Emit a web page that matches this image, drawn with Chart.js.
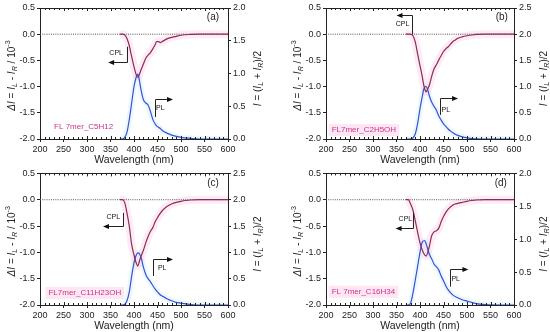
<!DOCTYPE html>
<html>
<head>
<meta charset="utf-8">
<script src="https://cdn.jsdelivr.net/npm/chart.js@4.4.0/dist/chart.umd.min.js"></script>
<style>
body { margin: 0; background: #fff; }
#wrap { position: relative; width: 550px; height: 332px; }
canvas { position: absolute; }
</style>
</head>
<body>
<div id="wrap">
  <canvas id="pa" width="275" height="166" style="left:0;top:0"></canvas>
  <canvas id="pb" width="275" height="166" style="left:275px;top:0"></canvas>
  <canvas id="pc" width="275" height="166" style="left:0;top:166px"></canvas>
  <canvas id="pd" width="275" height="166" style="left:275px;top:166px"></canvas>
</div>
<script>
// --- data (wavelength in nm, CPL in 10^-3, PL normalised) ---
const zeroWave = [200, 600];
const zeroLine = [0, 0];

const waveA = [370,375,380,385,390,395,400,405,408,410,415,420,425,430,435,440,445,448,452,456,460,470,480,490,500,520,540,570,600];
const cplA  = [0,0,-0.01,-0.08,-0.22,-0.43,-0.62,-0.78,-0.82,-0.8,-0.68,-0.57,-0.46,-0.4,-0.35,-0.28,-0.2,-0.14,-0.14,-0.16,-0.14,-0.09,-0.06,-0.04,-0.02,-0.005,0,0,0];
const plA   = [0,0,0.02,0.1,0.3,0.55,0.8,0.95,0.99,0.95,0.75,0.6,0.55,0.52,0.42,0.3,0.23,0.2,0.18,0.16,0.13,0.09,0.06,0.04,0.025,0.01,0,0,0];

const waveB = [370,378,385,390,395,400,405,408,411,413,416,420,425,430,435,440,445,450,455,460,465,470,475,480,490,500,510,520,540,570,600];
const cplB  = [0,0,-0.03,-0.15,-0.38,-0.6,-0.82,-0.97,-1.07,-1.1,-1.05,-0.97,-0.8,-0.66,-0.58,-0.49,-0.41,-0.33,-0.28,-0.24,-0.19,-0.14,-0.11,-0.08,-0.05,-0.03,-0.015,-0.005,0,0,0];
const plB   = [0,0,0.02,0.1,0.3,0.58,0.82,0.95,1.0,1.0,0.95,0.82,0.7,0.62,0.55,0.44,0.36,0.29,0.24,0.19,0.15,0.12,0.09,0.07,0.04,0.02,0.01,0.005,0,0,0];

const waveC = [370,375,380,385,390,395,400,404,408,412,416,420,425,430,435,440,445,450,455,460,470,480,490,500,510,520,540,570,600];
const cplC  = [0,0,-0.05,-0.25,-0.5,-0.85,-1.05,-1.18,-1.26,-1.15,-1.05,-0.96,-0.82,-0.7,-0.6,-0.53,-0.42,-0.34,-0.27,-0.21,-0.13,-0.08,-0.05,-0.03,-0.015,-0.005,0,0,0];
const plC   = [0,0,0.01,0.08,0.25,0.55,0.8,0.93,0.99,0.97,0.87,0.72,0.58,0.5,0.44,0.37,0.3,0.25,0.2,0.17,0.12,0.08,0.05,0.035,0.02,0.01,0,0,0];

const waveD = [370,375,380,385,390,395,400,405,410,413,416,420,425,430,435,440,445,450,455,460,470,480,490,500,510,520,540,570,600];
const cplD  = [0,0,-0.08,-0.2,-0.4,-0.62,-0.82,-0.96,-1.05,-1.07,-1.02,-0.88,-0.68,-0.61,-0.59,-0.54,-0.42,-0.32,-0.24,-0.18,-0.1,-0.07,-0.05,-0.03,-0.015,-0.005,0,0,0];
const plD   = [0,0,0.03,0.18,0.38,0.59,0.8,0.96,0.98,0.93,0.86,0.77,0.7,0.62,0.58,0.53,0.44,0.37,0.29,0.23,0.15,0.11,0.08,0.06,0.04,0.02,0.005,0,0];

const sampleNames = ['FL 7mer_C5H12', 'FL7mer_C2H5OH', 'FL7mer_C11H23OH', 'FL 7mer_C16H34'];
const panelLetters = ['(a)', '(b)', '(c)', '(d)'];

const FONT = '"Liberation Sans", Arial, sans-serif';
Chart.defaults.font.family = FONT;
Chart.defaults.color = '#222';

function pts(xs, ys) {
    return xs.map(function (x, i) { return { x: x, y: ys[i] }; });
}

// text with italic / sub / sup parts, centred at 0,0
function drawRich(ctx, parts, size) {
    let total = 0;
    parts.forEach(function (p) {
        const s = (p.sub || p.sup) ? size * 0.72 : size;
        ctx.font = (p.it ? 'italic ' : '') + s + 'px ' + FONT;
        p.w = ctx.measureText(p.t).width;
        total += p.w;
    });
    let cx = -total / 2;
    ctx.textBaseline = 'middle';
    ctx.textAlign = 'left';
    parts.forEach(function (p) {
        const s = (p.sub || p.sup) ? size * 0.72 : size;
        ctx.font = (p.it ? 'italic ' : '') + s + 'px ' + FONT;
        let dy = 0;
        if (p.sub) dy = size * 0.32;
        if (p.sup) dy = -size * 0.38;
        ctx.fillText(p.t, cx, dy);
        cx += p.w;
    });
}

const leftTitle = [
    { t: '\u0394I', it: true }, { t: ' = ' }, { t: 'I', it: true }, { t: 'L', it: true, sub: true },
    { t: ' - ' }, { t: 'I', it: true }, { t: 'R', it: true, sub: true }, { t: ' / 10' }, { t: '-3', sup: true }
];
const rightTitle = [
    { t: 'I', it: true }, { t: ' = (' }, { t: 'I', it: true }, { t: 'L', it: true, sub: true },
    { t: ' + ' }, { t: 'I', it: true }, { t: 'R', it: true, sub: true }, { t: ')/2' }
];

function arrow(ctx, x1, y1, x2, y2) {
    const dir = Math.sign(x2 - x1);
    ctx.beginPath();
    ctx.moveTo(x1, y1);
    ctx.lineTo(x2 - dir * 5, y2);
    ctx.stroke();
    ctx.beginPath();
    ctx.moveTo(x2, y2);
    ctx.lineTo(x2 - dir * 6, y2 - 2.6);
    ctx.lineTo(x2 - dir * 6, y2 + 2.6);
    ctx.closePath();
    ctx.fill();
}

const decor = {
    id: 'decor',
    afterDraw(chart, args, o) {
        const ctx = chart.ctx, a = chart.chartArea;
        const xs = chart.scales.x, ys = chart.scales.y;
        ctx.save();
        ctx.strokeStyle = '#222';
        ctx.fillStyle = '#111';
        ctx.lineWidth = 1;
        // top border + minor ticks
        ctx.beginPath();
        ctx.moveTo(a.left, Math.round(a.top) + 0.5);
        ctx.lineTo(a.right, Math.round(a.top) + 0.5);
        for (let w = 200; w <= 600; w += 10) {
            const px = Math.round(xs.getPixelForValue(w)) + 0.5;
            const len = w % 50 === 0 ? 3 : 2;
            ctx.moveTo(px, a.top);
            ctx.lineTo(px, a.top + len);
            ctx.moveTo(px, a.bottom);
            ctx.lineTo(px, a.bottom - len);
        }
        ctx.stroke();

        // CPL / PL brackets
        o.arrows.forEach(function (ar) {
            const vx = Math.round(xs.getPixelForValue(ar.x)) + 0.5;
            const p1 = ys.getPixelForValue(ar.y1);
            const p2 = Math.round(ys.getPixelForValue(ar.y2)) + 0.5;
            ctx.beginPath();
            ctx.moveTo(vx, p1);
            ctx.lineTo(vx, p2);
            ctx.stroke();
            arrow(ctx, vx, p2, xs.getPixelForValue(ar.tip), p2);
            ctx.font = '7px ' + FONT;
            ctx.textAlign = 'center';
            ctx.textBaseline = 'middle';
            ctx.fillText(ar.text, xs.getPixelForValue(ar.tx), ys.getPixelForValue(ar.ty));
        });

        // sample name
        ctx.font = '8px ' + FONT;
        ctx.textAlign = 'left';
        ctx.textBaseline = 'middle';
        const sx = xs.getPixelForValue(o.sampleAt[0]), sy = ys.getPixelForValue(o.sampleAt[1]);
        if (o.sampleBg) {
            const tw = ctx.measureText(o.sample).width;
            ctx.fillStyle = '#ffe6f3';
            ctx.fillRect(sx - 3, sy - 6, tw + 6, 12);
        }
        ctx.fillStyle = '#c8358c';
        ctx.fillText(o.sample, sx, sy);

        // panel letter
        ctx.fillStyle = '#222';
        ctx.font = '10px ' + FONT;
        ctx.textAlign = 'center';
        ctx.fillText(o.letter, xs.getPixelForValue(o.letterAt[0]), ys.getPixelForValue(o.letterAt[1]));

        // axis titles
        const cy = (a.top + a.bottom) / 2 + 2;
        ctx.fillStyle = '#222';
        ctx.save();
        ctx.translate(a.left - o.leftTitleGap, cy);
        ctx.rotate(-Math.PI / 2);
        drawRich(ctx, leftTitle, 10);
        ctx.restore();
        ctx.save();
        ctx.translate(a.right + 30, cy + 3);
        ctx.rotate(-Math.PI / 2);
        drawRich(ctx, rightTitle, 10);
        ctx.restore();
        ctx.restore();
    }
};

function makePanel(id, wave, cpl, pl, plMax, box, extra) {
    const el = document.getElementById(id);
    const W = el.width, H = el.height;
    return new Chart(el, {
        type: 'line',
        data: {
            datasets: [
                { data: pts(wave, cpl), borderColor: '#86304f', borderWidth: 1.2, yAxisID: 'y', order: 1 },
                { data: pts(wave, pl), borderColor: '#3a50d2', borderWidth: 1.2, yAxisID: 'y2', order: 1 },
                { data: pts(zeroWave, zeroLine), borderColor: '#555', borderWidth: 1, borderDash: [1, 1.2], yAxisID: 'y', order: 2 },
                { data: pts(wave, cpl), borderColor: 'rgba(255,185,228,0.3)', borderWidth: 8, yAxisID: 'y', order: 3 },
                { data: pts(wave, pl), borderColor: 'rgba(175,230,250,0.25)', borderWidth: 6, yAxisID: 'y2', order: 3 }
            ]
        },
        options: {
            responsive: false,
            animation: false,
            devicePixelRatio: 1,
            layout: { padding: { top: box.top, left: 0, right: 0, bottom: 0 } },
            elements: { point: { radius: 0 }, line: { cubicInterpolationMode: 'monotone' } },
            plugins: {
                legend: { display: false },
                tooltip: { enabled: false },
                decor: extra
            },
            scales: {
                x: {
                    type: 'linear', min: 200, max: 600,
                    afterFit: function (s) { s.height = H - box.bottom; },
                    ticks: {
                        stepSize: 10, autoSkip: false, maxRotation: 0, padding: 2,
                        font: { size: 9 },
                        callback: function (v) { return v % 50 === 0 ? v : ''; }
                    },
                    grid: {
                        drawOnChartArea: false, tickLength: 3,
                        color: function (c) { return c.tick && c.tick.value % 50 === 0 ? '#222' : 'rgba(0,0,0,0)'; }
                    },
                    border: { color: '#222' },
                    title: { display: true, text: 'Wavelength (nm)', font: { size: 10.5 }, padding: { top: 0, bottom: 0 } }
                },
                y: {
                    position: 'left', min: -2, max: 0.5,
                    afterFit: function (s) { s.width = box.left; },
                    ticks: { stepSize: 0.5, padding: 2, font: { size: 9 }, callback: function (v) { return v.toFixed(1); } },
                    grid: { drawOnChartArea: false, tickLength: 3, color: '#222' },
                    border: { color: '#222' }
                },
                y2: {
                    position: 'right', min: 0, max: plMax,
                    afterFit: function (s) { s.width = W - box.right; },
                    ticks: { stepSize: 0.5, padding: 2, font: { size: 9 }, callback: function (v) { return v.toFixed(1); } },
                    grid: { drawOnChartArea: false, tickLength: 3, color: '#222' },
                    border: { color: '#222' }
                }
            }
        },
        plugins: [decor]
    });
}

makePanel('pa', waveA, cplA, plA, 2.0, { left: 40, right: 228, top: 8, bottom: 139 }, {
    sample: sampleNames[0], sampleAt: [230, -1.77], sampleBg: false,
    letter: panelLetters[0], letterAt: [568, 0.33], leftTitleGap: 28,
    arrows: [
        { x: 385, y1: -0.24, y2: -0.53, tip: 345, text: 'CPL', tx: 362, ty: -0.36 },
        { x: 445, y1: -1.58, y2: -1.24, tip: 483, text: 'PL', tx: 456, ty: -1.41 }
    ]
});
makePanel('pb', waveB, cplB, plB, 2.5, { left: 51, right: 239, top: 8, bottom: 139 }, {
    sample: sampleNames[1], sampleAt: [212, -1.83], sampleBg: true,
    letter: panelLetters[1], letterAt: [574, 0.33], leftTitleGap: 28,
    arrows: [
        { x: 382, y1: 0, y2: 0.36, tip: 350, text: 'CPL', tx: 363, ty: 0.2 },
        { x: 443, y1: -1.54, y2: -1.22, tip: 481, text: 'PL', tx: 455, ty: -1.45 }
    ]
});
makePanel('pc', waveC, cplC, plC, 2.5, { left: 40, right: 228, top: 7, bottom: 139 }, {
    sample: sampleNames[2], sampleAt: [218, -1.77], sampleBg: true,
    letter: panelLetters[2], letterAt: [568, 0.31], leftTitleGap: 28,
    arrows: [
        { x: 377, y1: -0.25, y2: -0.5, tip: 334, text: 'CPL', tx: 356, ty: -0.32 },
        { x: 440, y1: -1.45, y2: -1.12, tip: 483, text: 'PL', tx: 460, ty: -1.29 }
    ]
});
makePanel('pd', waveD, cplD, plD, 2.0, { left: 51, right: 239, top: 7, bottom: 139 }, {
    sample: sampleNames[3], sampleAt: [212, -1.75], sampleBg: true,
    letter: panelLetters[3], letterAt: [572, 0.31], leftTitleGap: 28,
    arrows: [
        { x: 386, y1: -0.25, y2: -0.54, tip: 348, text: 'CPL', tx: 369, ty: -0.36 },
        { x: 464, y1: -1.65, y2: -1.32, tip: 503, text: 'PL', tx: 476, ty: -1.5 }
    ]
});
</script>
</body>
</html>
